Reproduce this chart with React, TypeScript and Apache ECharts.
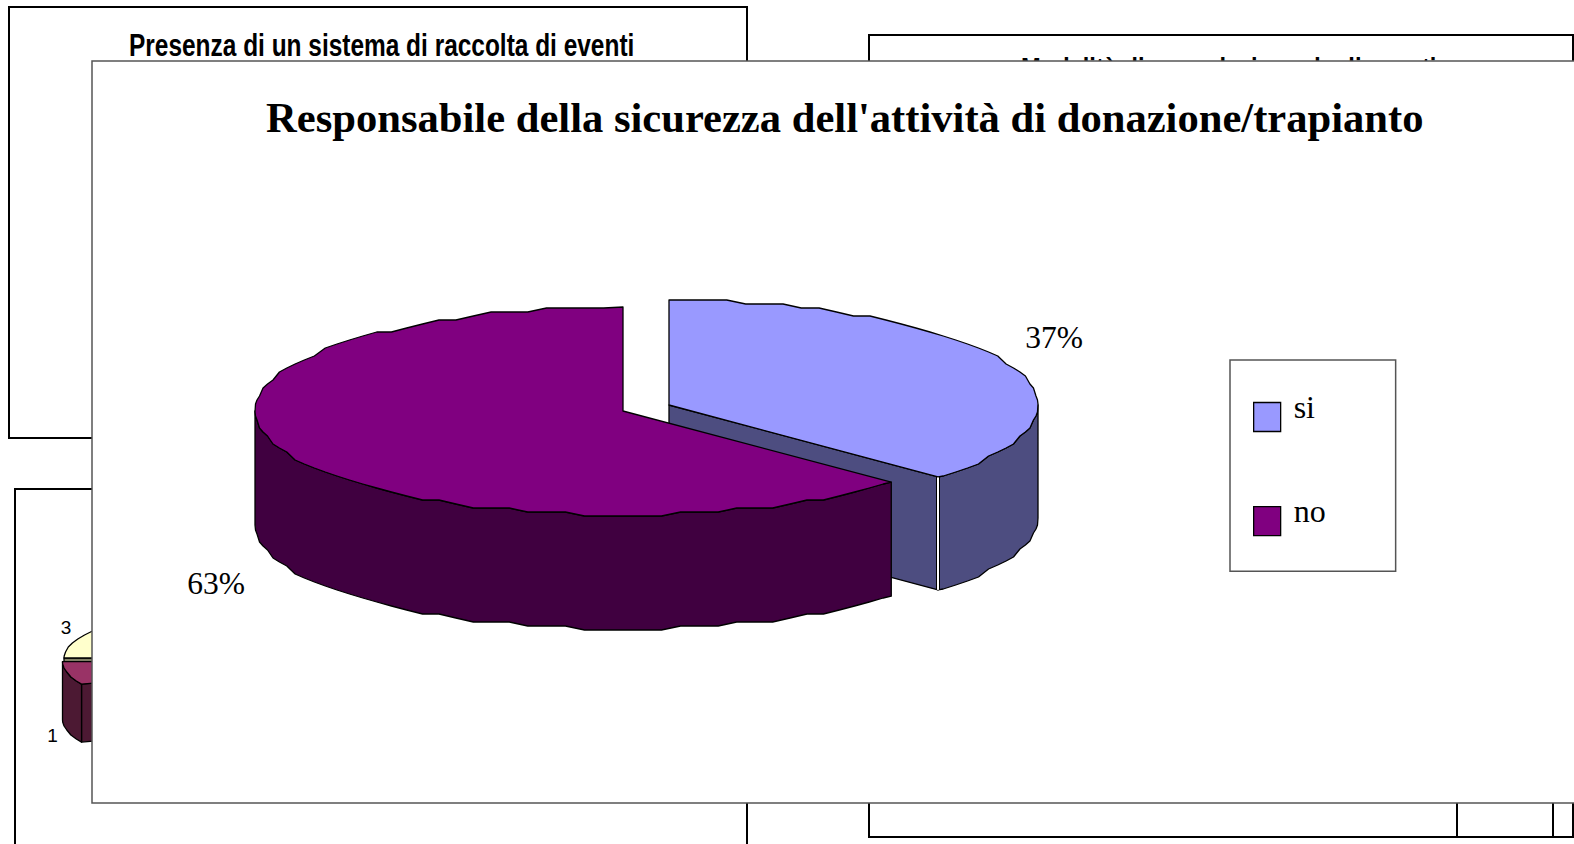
import React, { useEffect, useRef } from "react";
import * as echarts from "echarts";

// Values of the front chart
const categories = ["si", "no"];
const shares = [37, 63];
const titleText = "Responsabile della sicurezza dell'attività di donazione/trapianto";

// Partly covered chart at the lower left: slices clockwise from the horizontal
const coveredLabels = ["3", "", "1"];
const coveredValues = [3, 13, 1];

const upperLeftTitle = "Presenza di un sistema di raccolta di eventi";
const upperRightTitle = "Modalità di segnalazione degli eventi";

const SERIF = "'Liberation Serif', 'Times New Roman', serif";
const SANS = "'Liberation Sans', Arial, sans-serif";

type Pt = [number, number];

interface SliceStyle {
  cx: number;
  cy: number;
  rx: number;
  ry: number;
  depth: number;
  top: string;
  wall: string;
  grid: number;
  step: number;
  lineWidth: number;
}

// Point on the tilted disc rim; the angle runs clockwise from twelve o'clock.
function rim(s: SliceStyle, deg: number): Pt {
  const a = (deg * Math.PI) / 180;
  return [s.cx + s.rx * Math.sin(a), s.cy - s.ry * Math.cos(a)];
}

// Rim polyline with coarse vertical rounding, which gives the stepped outline.
function arc(s: SliceStyle, from: number, to: number): Pt[] {
  const pts: Pt[] = [rim(s, from)];
  const first = Math.ceil(from / s.step + 0.01) * s.step;
  for (let d = first; d < to - 0.01; d += s.step) {
    const [x, y] = rim(s, d);
    pts.push([x, Math.round(y / s.grid) * s.grid]);
  }
  pts.push(rim(s, to));
  return pts;
}

function sliceElements(s: SliceStyle, from: number, to: number, extras: any[] = []) {
  const out: any[] = [];
  const stroke = { stroke: "#000", lineWidth: s.lineWidth, lineJoin: "round" };
  const wallStyle = { fill: s.wall, ...stroke };

  // Side walls along the cut edges, only where they face the viewer
  const radial = (deg: number) => {
    const p = rim(s, deg);
    out.push({
      type: "polygon",
      shape: { points: [[s.cx, s.cy], p, [p[0], p[1] + s.depth], [s.cx, s.cy + s.depth]] },
      style: wallStyle,
    });
  };
  if (Math.sin((from * Math.PI) / 180) < -0.01) radial(from);
  if (Math.sin((to * Math.PI) / 180) > 0.01) radial(to);

  // Curved wall on the front half of the rim
  for (const [lo, hi] of [[90, 270], [450, 630]]) {
    const a = Math.max(from, lo);
    const b = Math.min(to, hi);
    if (b > a) {
      const upper = arc(s, a, b);
      const lower = upper.map(([x, y]) => [x, y + s.depth]).reverse();
      out.push({ type: "polygon", shape: { points: [...upper, ...lower] }, style: wallStyle });
    }
  }
  out.push(...extras);

  out.push({
    type: "polygon",
    shape: { points: [[s.cx, s.cy], ...arc(s, from, to)] },
    style: { fill: s.top, ...stroke },
  });
  return out;
}

function sweeps(values: number[], start: number) {
  const total = values.reduce((a, b) => a + b, 0);
  let acc = start;
  return values.map((v) => {
    const from = acc;
    acc += (v / total) * 360;
    return [from, acc];
  });
}

const frontStyles: SliceStyle[] = [
  { cx: 669, cy: 405, rx: 369, ry: 105, depth: 113, top: "#9999FF", wall: "#4D4D80", grid: 4, step: 3, lineWidth: 1.3 },
  { cx: 623, cy: 411, rx: 368, ry: 104, depth: 114, top: "#800080", wall: "#400040", grid: 4, step: 3, lineWidth: 1.3 },
];
const frontLabelPos: Pt[] = [
  [1054, 337],
  [216, 583],
];

const coveredStyles: SliceStyle[] = [
  { cx: 346, cy: 658, rx: 282, ry: 62, depth: 58, top: "#FFFFCC", wall: "#808066", grid: 1, step: 4, lineWidth: 1.3 },
  { cx: 360, cy: 660, rx: 250, ry: 62, depth: 58, top: "#9999FF", wall: "#4D4D80", grid: 1, step: 4, lineWidth: 1.3 },
  { cx: 344.5, cy: 661.7, rx: 282, ry: 62, depth: 58, top: "#993366", wall: "#4C1933", grid: 1, step: 4, lineWidth: 1.3 },
];
const coveredLabelPos: Pt[] = [
  [66, 627],
  [0, 0],
  [52.5, 735],
];

export default function App() {
  const ref = useRef<HTMLDivElement>(null);

  useEffect(() => {
    document.body.style.margin = "0";
    document.body.style.overflow = "hidden";
    const chart = echarts.init(ref.current!, undefined, { renderer: "svg" });

    const frontSweep = sweeps(shares, 0);
    const coveredSweep = sweeps(coveredValues, 270);

    const frontSeries = categories.map((name, i) => ({
      type: "custom",
      name,
      coordinateSystem: "none",
      z: 5 + i,
      silent: true,
      itemStyle: { color: frontStyles[i].top },
      data: [shares[i]],
      renderItem: (_: any, api: any) => {
        const s = frontStyles[i];
        const [from, to] = frontSweep[i];
        // The edge shared with the other slice carries a thin white seam
        const seam: any[] = [];
        if (i === 0) {
          const p = rim(s, to);
          const shape = { x1: p[0], y1: p[1], x2: p[0], y2: p[1] + s.depth };
          seam.push({ type: "line", shape, style: { stroke: "#000", lineWidth: 4 } });
          seam.push({ type: "line", shape, style: { stroke: "#fff", lineWidth: 2 } });
        }
        return {
          type: "group",
          children: [
            ...sliceElements(s, from, to, seam),
            {
              type: "text",
              style: {
                text: `${api.value(0)}%`,
                x: frontLabelPos[i][0],
                y: frontLabelPos[i][1],
                align: "center",
                verticalAlign: "middle",
                fill: "#000",
                font: `31.5px ${SERIF}`,
              },
            },
          ],
        };
      },
    }));

    const coveredSeries = {
      type: "custom",
      name: "covered",
      coordinateSystem: "none",
      z: 2,
      silent: true,
      data: coveredValues,
      renderItem: (params: any) => {
        const i = params.dataIndex;
        const [from, to] = coveredSweep[i];
        const children = sliceElements(coveredStyles[i], from, to);
        if (coveredLabels[i]) {
          children.push({
            type: "text",
            style: {
              text: coveredLabels[i],
              x: coveredLabelPos[i][0],
              y: coveredLabelPos[i][1],
              align: "center",
              verticalAlign: "middle",
              fill: "#000",
              font: `19px ${SANS}`,
            },
          });
        }
        return { type: "group", children };
      },
    };

    const backFrame = { fill: "#fff", stroke: "#000", lineWidth: 2 };
    const backTitle = (text: string, x: number, y: number, scaleX: number) => ({
      type: "text",
      z: 1,
      x,
      y,
      scaleX,
      style: {
        text,
        fill: "#000",
        font: `bold 32px ${SANS}`,
        align: "left",
        verticalAlign: "top",
      },
    });
    const rule = (x1: number, y1: number, x2: number, y2: number) => ({
      type: "line",
      z: 1,
      shape: { x1, y1, x2, y2 },
      style: { stroke: "#000", lineWidth: 2 },
    });

    chart.setOption({
      animation: false,
      backgroundColor: "#fff",
      title: {
        text: titleText,
        left: 266,
        top: 96,
        z: 10,
        padding: 0,
        textStyle: { fontFamily: SERIF, fontWeight: "bold", fontSize: 42.6, color: "#000" },
      },
      legend: {
        data: categories,
        orient: "vertical",
        left: 1230,
        top: 360,
        z: 10,
        icon: "rect",
        itemWidth: 27,
        itemHeight: 29,
        itemGap: 63,
        padding: [31, 70, 35, 23],
        borderColor: "#555",
        borderWidth: 1.5,
        backgroundColor: "#fff",
        selectedMode: false,
        itemStyle: { borderColor: "#000", borderWidth: 1.3 },
        formatter: "{t|{name}}",
        textStyle: {
          color: "#000",
          rich: {
            t: { fontFamily: SERIF, fontSize: 32, color: "#000", padding: [0, 0, 20, 8] },
          },
        },
      },
      graphic: {
        elements: [
          { type: "rect", z: 1, shape: { x: 9, y: 7, width: 738, height: 431 }, style: backFrame },
          { type: "rect", z: 1, shape: { x: 15, y: 489, width: 732, height: 400 }, style: backFrame },
          { type: "rect", z: 1, shape: { x: 869, y: 35, width: 704, height: 802 }, style: backFrame },
          rule(1457, 803, 1457, 837),
          rule(1553, 803, 1553, 837),
          backTitle(upperLeftTitle, 129, 29, 0.764),
          backTitle(upperRightTitle, 1021, 53, 0.74),
          {
            type: "rect",
            z: 3,
            shape: { x: 92, y: 61, width: 1500, height: 742 },
            style: { fill: "#fff", stroke: "#555", lineWidth: 1.5 },
          },
        ],
      },
      series: [coveredSeries, ...frontSeries],
    });

    return () => chart.dispose();
  }, []);

  return <div ref={ref} style={{ width: 1574, height: 844 }} />;
}
